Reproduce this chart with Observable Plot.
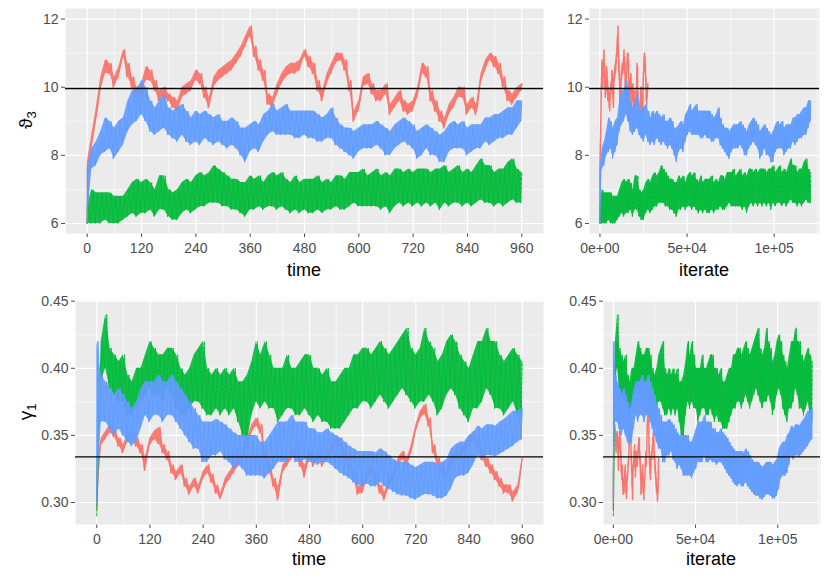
<!DOCTYPE html>
<html><head><meta charset="utf-8">
<script src="https://cdn.jsdelivr.net/npm/d3@7"></script>
<script src="https://cdn.jsdelivr.net/npm/@observablehq/plot@0.6"></script>
<style>
body{margin:0;background:#fff;font-family:"Liberation Sans",Arial,Helvetica,sans-serif;}
#wrap{position:relative;width:830px;height:580px;overflow:hidden;}
.panel{position:absolute;}
.lab{position:absolute;font-size:18px;color:#000;white-space:nowrap;transform:translate(-50%,-50%);line-height:1;}
.ylab{position:absolute;font-size:19px;color:#000;white-space:nowrap;transform:translate(-50%,-50%) rotate(-90deg);line-height:1;}
.ylab sub{font-size:13px;}
</style></head><body><div id="wrap"></div>
<script>
// ---- sample times (every 10 time units) ----
const bins = d3.range(0, 961, 10);
const chains = ["1", "2", "3"];
const chainColors = ["#F8766D", "#00BA38", "#619CFF"];
const iterTotal = {"1": 27500, "2": 121000, "3": 121000};

// ---- theta_3 : band low / high per time bin ----
const thetaRedLo = [6.0,8.2,9.0,9.9,10.4,10.4,10.0,10.3,10.9,10.3, 10.0,9.7,9.8,10.2,10.2,9.9,9.6,9.7,9.6,9.4, 9.3,9.7,9.8,9.9,10.2,10.1,9.7,9.4,10.0,10.2, 10.3,10.4,10.5,10.7,10.9,11.2,11.5,10.9,10.5,10.2, 9.5,9.4,9.8,10.1,10.3,10.4,10.4,10.5,10.9,10.6, 10.4,9.9,9.6,10.1,10.4,10.7,10.8,10.5,9.9,9.0, 9.3,10.0,10.1,9.8,9.6,9.6,9.8,9.2,9.4,9.6, 9.3,9.2,9.3,9.7,10.4,10.3,9.6,9.3,9.0,8.8, 9.2,9.4,9.7,9.7,9.2,9.4,9.2,10.1,10.5,10.8, 10.6,10.4,10.0,9.6,9.5,9.7,9.9];
const thetaRedHi = [7.8,8.6,9.4,10.3,10.8,10.7,10.3,10.6,11.1,10.7, 10.3,10.0,10.1,10.6,10.5,10.2,9.9,10.0,9.8,9.7, 9.6,10.0,10.1,10.2,10.5,10.4,10.0,9.7,10.3,10.5, 10.6,10.7,10.8,11.0,11.2,11.5,11.8,11.2,10.8,10.5, 9.8,9.7,10.1,10.4,10.6,10.7,10.7,10.8,11.1,10.9, 10.7,10.2,9.9,10.4,10.7,11.0,11.0,10.8,10.2,9.3, 9.6,10.3,10.4,10.1,9.9,9.9,10.1,9.5,9.7,9.9, 9.6,9.5,9.6,10.0,10.7,10.6,9.9,9.6,9.3,9.1, 9.5,9.7,10.0,10.0,9.5,9.7,9.5,10.4,10.8,11.0, 10.9,10.7,10.3,9.9,9.8,10.0,10.1];
const thetaGreenLo = [6.0,6.0,6.0,6.0,6.1,6.0,6.0,6.0,6.1,6.2, 6.3,6.2,6.3,6.3,6.4,6.2,6.4,6.4,6.2,6.1, 6.1,6.3,6.4,6.3,6.4,6.5,6.5,6.6,6.6,6.6, 6.5,6.5,6.4,6.4,6.3,6.2,6.4,6.4,6.5,6.4, 6.5,6.5,6.4,6.5,6.4,6.3,6.4,6.3,6.4,6.3, 6.3,6.4,6.3,6.4,6.4,6.5,6.4,6.4,6.5,6.6, 6.5,6.5,6.5,6.5,6.5,6.4,6.5,6.3,6.5,6.6, 6.5,6.6,6.5,6.6,6.5,6.6,6.5,6.6,6.4,6.6, 6.5,6.6,6.6,6.5,6.6,6.5,6.6,6.7,6.6,6.6, 6.5,6.6,6.5,6.6,6.7,6.6,6.6];
const thetaGreenHi = [6.5,7.0,6.9,6.9,6.9,6.9,6.8,6.8,6.8,7.0, 7.2,7.3,7.2,7.3,7.2,7.0,7.4,7.4,7.0,6.9, 7.0,7.2,7.3,7.2,7.4,7.5,7.4,7.5,7.7,7.6, 7.5,7.4,7.3,7.3,7.2,7.2,7.4,7.3,7.4,7.2, 7.4,7.5,7.4,7.5,7.3,7.2,7.4,7.2,7.3,7.3, 7.3,7.4,7.2,7.3,7.2,7.4,7.4,7.3,7.5,7.5, 7.5,7.6,7.4,7.5,7.6,7.4,7.5,7.4,7.6,7.6, 7.5,7.6,7.5,7.6,7.6,7.6,7.5,7.6,7.6,7.7, 7.5,7.6,7.7,7.5,7.6,7.5,7.7,7.9,7.7,7.7, 7.5,7.6,7.6,7.8,7.9,7.6,7.5];
const thetaBlueLo = [6.0,7.6,7.7,8.0,8.1,8.2,7.9,8.1,8.3,8.7, 8.9,9.0,9.2,9.0,8.7,8.6,8.7,8.8,8.6,8.5, 8.4,8.6,8.4,8.3,8.4,8.3,8.5,8.4,8.3,8.4, 8.3,8.2,8.3,8.2,8.0,7.8,8.1,8.2,8.1,8.4, 8.6,8.7,8.6,8.6,8.6,8.6,8.5,8.5,8.6,8.5, 8.5,8.4,8.4,8.5,8.5,8.3,8.2,8.1,8.0,7.9, 8.1,8.2,8.2,8.2,8.3,8.2,8.0,8.0,8.2,8.3, 8.4,8.3,8.2,7.9,8.0,8.2,8.0,8.0,7.8,7.8, 8.1,8.2,8.2,8.2,8.0,8.1,8.2,8.2,8.4,8.3, 8.4,8.5,8.5,8.6,8.6,8.8,9.0];
const thetaBlueHi = [7.6,8.2,8.4,8.7,9.1,9.0,8.8,9.0,9.1,9.6, 9.9,9.9,10.2,10.0,9.6,9.4,9.6,9.8,9.4,9.3, 9.4,9.5,9.3,9.1,9.3,9.2,9.3,9.2,9.1,9.2, 9.0,9.0,9.1,9.0,8.8,8.8,8.9,9.0,8.9,9.2, 9.3,9.5,9.3,9.4,9.5,9.3,9.3,9.3,9.3,9.3, 9.3,9.2,9.1,9.2,9.4,9.1,8.9,8.8,8.8,8.7, 8.8,8.9,8.9,8.9,9.0,8.9,8.8,8.7,8.9,9.0, 9.1,9.0,8.9,8.7,8.8,8.9,8.8,8.7,8.6,8.7, 8.9,9.0,8.9,9.0,8.8,8.9,8.9,8.9,9.1,9.1, 9.2,9.2,9.3,9.4,9.4,9.6,9.6];

// ---- gamma_1 : band low / high per time bin ----
const gammaRedLo = [0.295,0.342,0.347,0.352,0.349,0.342,0.337,0.345,0.347,0.342, 0.337,0.324,0.342,0.347,0.344,0.337,0.332,0.322,0.317,0.322, 0.312,0.306,0.312,0.307,0.317,0.322,0.315,0.307,0.303,0.312, 0.317,0.322,0.327,0.332,0.342,0.352,0.357,0.352,0.332,0.322, 0.312,0.302,0.322,0.327,0.332,0.337,0.327,0.319,0.332,0.327, 0.332,0.327,0.332,0.337,0.342,0.342,0.332,0.327,0.317,0.306, 0.307,0.317,0.322,0.315,0.307,0.302,0.312,0.317,0.327,0.332, 0.327,0.337,0.352,0.362,0.366,0.357,0.337,0.327,0.322,0.317, 0.327,0.332,0.332,0.337,0.342,0.347,0.342,0.332,0.327,0.322, 0.317,0.312,0.307,0.307,0.301,0.307,0.327];
const gammaRedHi = [0.320,0.348,0.353,0.358,0.354,0.348,0.343,0.351,0.353,0.348, 0.343,0.334,0.348,0.353,0.356,0.343,0.338,0.328,0.323,0.328, 0.318,0.312,0.318,0.313,0.323,0.328,0.321,0.313,0.307,0.318, 0.323,0.328,0.333,0.338,0.348,0.358,0.363,0.358,0.338,0.328, 0.318,0.312,0.328,0.333,0.338,0.343,0.333,0.328,0.338,0.333, 0.338,0.333,0.338,0.343,0.348,0.348,0.338,0.333,0.323,0.312, 0.313,0.323,0.328,0.321,0.313,0.308,0.318,0.323,0.333,0.338, 0.333,0.343,0.358,0.368,0.373,0.363,0.343,0.333,0.328,0.323, 0.333,0.338,0.338,0.343,0.348,0.353,0.348,0.338,0.333,0.328, 0.323,0.318,0.313,0.313,0.308,0.313,0.333];
const gammaGreenLo = [0.290,0.390,0.400,0.385,0.380,0.375,0.375,0.365,0.365,0.370, 0.375,0.380,0.385,0.380,0.380,0.375,0.385,0.380,0.370,0.365, 0.365,0.370,0.375,0.375,0.370,0.365,0.365,0.370,0.365,0.370, 0.365,0.370,0.360,0.350,0.345,0.365,0.375,0.370,0.375,0.370, 0.370,0.360,0.365,0.370,0.370,0.365,0.365,0.370,0.365,0.360, 0.365,0.360,0.360,0.355,0.355,0.355,0.360,0.365,0.370,0.370, 0.375,0.375,0.370,0.375,0.380,0.375,0.370,0.375,0.380,0.385, 0.380,0.375,0.370,0.375,0.375,0.380,0.375,0.365,0.370,0.380, 0.385,0.380,0.370,0.365,0.360,0.370,0.370,0.375,0.385,0.380, 0.370,0.370,0.365,0.370,0.375,0.365,0.360];
const gammaGreenHi = [0.320,0.420,0.440,0.415,0.410,0.405,0.410,0.395,0.390,0.400, 0.400,0.410,0.420,0.415,0.410,0.410,0.415,0.415,0.410,0.400, 0.395,0.400,0.410,0.415,0.420,0.400,0.395,0.400,0.395,0.400, 0.395,0.400,0.390,0.390,0.395,0.405,0.420,0.410,0.420,0.410, 0.400,0.400,0.400,0.410,0.400,0.400,0.405,0.410,0.410,0.400, 0.400,0.395,0.400,0.390,0.390,0.395,0.400,0.400,0.410,0.410, 0.415,0.415,0.410,0.415,0.420,0.415,0.410,0.415,0.420,0.425, 0.430,0.415,0.410,0.415,0.430,0.420,0.415,0.405,0.410,0.420, 0.425,0.420,0.410,0.405,0.400,0.410,0.420,0.420,0.430,0.420, 0.420,0.410,0.405,0.410,0.415,0.410,0.405];
const gammaBlueLo = [0.300,0.360,0.360,0.355,0.350,0.355,0.350,0.345,0.342,0.345, 0.355,0.365,0.360,0.365,0.365,0.360,0.365,0.365,0.360,0.355, 0.350,0.345,0.340,0.340,0.330,0.330,0.335,0.335,0.338,0.332, 0.330,0.325,0.328,0.325,0.320,0.320,0.320,0.320,0.318,0.322, 0.325,0.330,0.330,0.330,0.335,0.330,0.330,0.332,0.330,0.330, 0.328,0.330,0.330,0.328,0.325,0.322,0.320,0.318,0.315,0.313, 0.312,0.314,0.312,0.312,0.315,0.312,0.310,0.308,0.306,0.305, 0.305,0.303,0.302,0.304,0.306,0.306,0.305,0.303,0.303,0.305, 0.310,0.318,0.320,0.320,0.322,0.328,0.335,0.332,0.335,0.335, 0.334,0.336,0.338,0.340,0.342,0.345,0.347];
const gammaBlueHi = [0.420,0.395,0.390,0.385,0.380,0.385,0.380,0.375,0.370,0.375, 0.385,0.390,0.390,0.390,0.395,0.390,0.390,0.395,0.390,0.385, 0.380,0.375,0.370,0.365,0.360,0.360,0.360,0.362,0.360,0.358, 0.355,0.352,0.350,0.350,0.350,0.350,0.350,0.345,0.345,0.350, 0.355,0.360,0.360,0.360,0.365,0.360,0.360,0.360,0.355,0.355, 0.352,0.352,0.355,0.352,0.350,0.348,0.345,0.342,0.340,0.338, 0.338,0.338,0.338,0.337,0.340,0.338,0.335,0.332,0.330,0.330, 0.330,0.328,0.326,0.328,0.330,0.330,0.330,0.328,0.330,0.332, 0.340,0.343,0.345,0.345,0.350,0.352,0.357,0.355,0.358,0.358, 0.357,0.360,0.362,0.365,0.368,0.368,0.370];

// ---- reference lines ----
const thetaTrue = 9.96;
const gammaTrue = 0.334;

// ---- axis ticks ----
const timeTicks = [0, 120, 240, 360, 480, 600, 720, 840, 960];
const timeMinor = [60, 180, 300, 420, 540, 660, 780, 900];
const iterTicks = [0, 50000, 100000];
const iterTickLabels = ["0e+00", "5e+04", "1e+05"];
const iterMinor = [25000, 75000, 125000];
const thetaTicks = [6, 8, 10, 12];
const thetaMinor = [7, 9, 11];
const gammaTicks = [0.30, 0.35, 0.40, 0.45];
const gammaMinor = [0.325, 0.375, 0.425];

// zig-zag trace between the band's low and high values
function trace(lo, hi, chain) {
  const rows = [];
  bins.forEach((t, i) => {
    const a = Math.max(0, t - 2.5), b = Math.min(960, t + 2.5);
    rows.push({chain, time: a, iterate: a / 960 * iterTotal[chain], v: lo[i]});
    rows.push({chain, time: b, iterate: b / 960 * iterTotal[chain], v: hi[i]});
  });
  return rows;
}
// band between low and high per bin
function band(lo, hi, chain) {
  return bins.map((t, i) => ({chain, time: t, iterate: t / 960 * iterTotal[chain], lo: lo[i], hi: hi[i]}));
}
const thetaSeries = [
  {chain: "1", zig: trace(thetaRedLo, thetaRedHi, "1"), band: band(thetaRedLo, thetaRedHi, "1")},
  {chain: "2", zig: trace(thetaGreenLo, thetaGreenHi, "2"), band: band(thetaGreenLo, thetaGreenHi, "2")},
  {chain: "3", zig: trace(thetaBlueLo, thetaBlueHi, "3"), band: band(thetaBlueLo, thetaBlueHi, "3")}
];
const gammaSeries = [
  {chain: "1", zig: trace(gammaRedLo, gammaRedHi, "1"), band: band(gammaRedLo, gammaRedHi, "1")},
  {chain: "2", zig: trace(gammaGreenLo, gammaGreenHi, "2"), band: band(gammaGreenLo, gammaGreenHi, "2")},
  {chain: "3", zig: trace(gammaBlueLo, gammaBlueHi, "3"), band: band(gammaBlueLo, gammaBlueHi, "3")}
];

const iterLabelMap = new Map(iterTicks.map((t, i) => [t, iterTickLabels[i]]));
const dashes = {"1": null, "2": "3,1.6", "3": null};

function panel(o) {
  const marks = [
    Plot.frame({fill: "#EBEBEB", stroke: "none"}),
    Plot.ruleX(o.xMinor, {stroke: "white", strokeWidth: 0.6}),
    Plot.ruleY(o.yMinor, {stroke: "white", strokeWidth: 0.6}),
    Plot.ruleX(o.xTicks, {stroke: "white", strokeWidth: 1.2}),
    Plot.ruleY(o.yTicks, {stroke: "white", strokeWidth: 1.2})
  ];
  o.series.forEach(s => {
    const col = chainColors[chains.indexOf(s.chain)];
    marks.push(Plot.areaY(s.band, {x: o.xField, y1: "lo", y2: "hi", fill: col, fillOpacity: 0.9}));
    marks.push(Plot.line(s.zig, {x: o.xField, y: "v", stroke: col, strokeWidth: s.chain === "1" ? 1.4 : 1, strokeDasharray: dashes[s.chain]}));
  });
  marks.push(Plot.ruleY([o.hline], {stroke: "black", strokeWidth: 1.4}));
  const svg = Plot.plot({
    width: o.width, height: o.height,
    marginLeft: o.mL, marginRight: o.mR, marginTop: o.mT, marginBottom: o.mB,
    style: {fontFamily: '"Liberation Sans", Arial, Helvetica, sans-serif', fontSize: "14px", color: "#4D4D4D", background: "transparent", overflow: "visible"},
    x: {domain: o.xDomain, ticks: o.xTicks, tickFormat: o.xFmt, tickSize: 4, tickPadding: 6, label: null},
    y: {domain: o.yDomain, ticks: o.yTicks, tickFormat: o.yFmt, tickSize: 4, tickPadding: 3, label: null},
    marks
  });
  const div = document.createElement("div");
  div.className = "panel";
  div.style.left = o.left + "px";
  div.style.top = o.top + "px";
  div.appendChild(svg);
  document.getElementById("wrap").appendChild(div);
}

const timeDomain = [-48, 1008];
const iterDomain = [-6000, 126000];
const thetaDomain = [5.706, 12.31];
const gammaDomain = [0.2836, 0.4505];

panel({series: thetaSeries, xField: "time", xDomain: timeDomain, xTicks: timeTicks, xMinor: timeMinor, xFmt: d => String(d),
  yDomain: thetaDomain, yTicks: thetaTicks, yMinor: thetaMinor, yFmt: d => String(d), hline: thetaTrue,
  left: 0, top: 0, width: 545, height: 290, mL: 65, mR: 2, mT: 8, mB: 57});
panel({series: thetaSeries, xField: "iterate", xDomain: iterDomain, xTicks: iterTicks, xMinor: iterMinor, xFmt: d => iterLabelMap.get(d),
  yDomain: thetaDomain, yTicks: thetaTicks, yMinor: thetaMinor, yFmt: d => String(d), hline: thetaTrue,
  left: 545, top: 0, width: 285, height: 290, mL: 44, mR: 11, mT: 8, mB: 57});
panel({series: gammaSeries, xField: "time", xDomain: timeDomain, xTicks: timeTicks, xMinor: timeMinor, xFmt: d => String(d),
  yDomain: gammaDomain, yTicks: gammaTicks, yMinor: gammaMinor, yFmt: d => d.toFixed(2), hline: gammaTrue,
  left: 0, top: 290, width: 545, height: 290, mL: 75, mR: 2, mT: 10, mB: 56});
panel({series: gammaSeries, xField: "iterate", xDomain: iterDomain, xTicks: iterTicks, xMinor: iterMinor, xFmt: d => iterLabelMap.get(d),
  yDomain: gammaDomain, yTicks: gammaTicks, yMinor: gammaMinor, yFmt: d => d.toFixed(2), hline: gammaTrue,
  left: 545, top: 290, width: 285, height: 290, mL: 58, mR: 10, mT: 10, mB: 56});

// ---- axis titles ----
const titles = [
  {cls: "lab", html: "time", x: 304, y: 270},
  {cls: "lab", html: "iterate", x: 704, y: 270},
  {cls: "lab", html: "time", x: 309, y: 559},
  {cls: "lab", html: "iterate", x: 711, y: 559},
  {cls: "ylab", html: "ϑ<sub>3</sub>", x: 27, y: 120},
  {cls: "ylab", html: "γ<sub>1</sub>", x: 27, y: 412}
];
titles.forEach(t => {
  const d = document.createElement("div");
  d.className = t.cls;
  d.innerHTML = t.html;
  d.style.left = t.x + "px";
  d.style.top = t.y + "px";
  document.getElementById("wrap").appendChild(d);
});
</script></body></html>
